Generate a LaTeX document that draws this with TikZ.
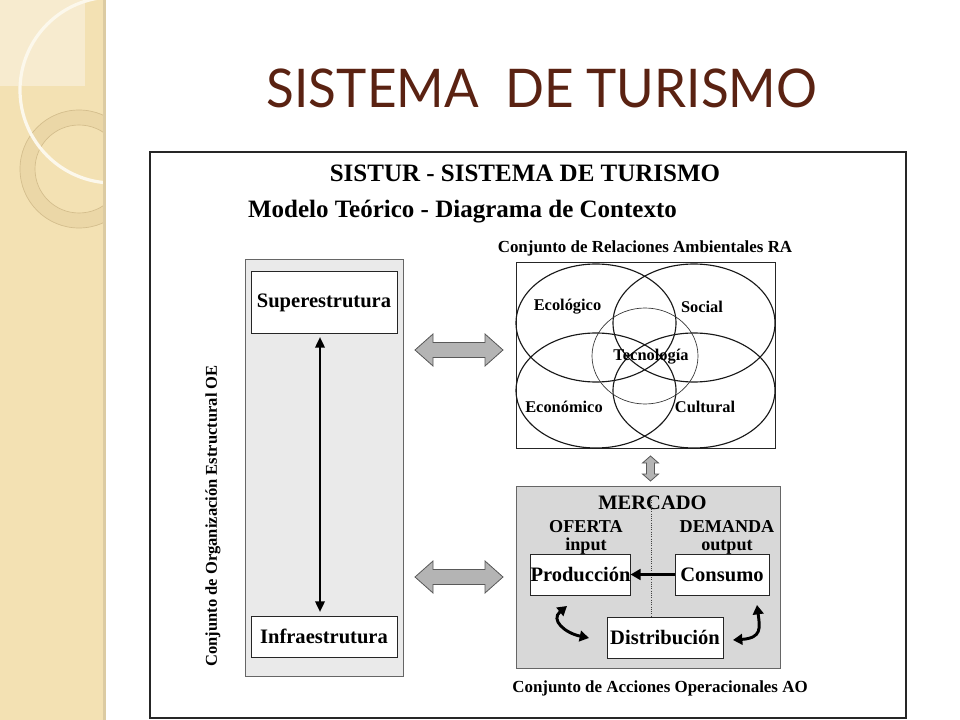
\documentclass[tikz,border=0pt]{standalone}
\usepackage{fontspec}
\setmainfont{Liberation Serif}
\newfontfamily\titlefont{Lato}
\usetikzlibrary{calc,arrows.meta}
\definecolor{stripe}{HTML}{F3E1B3}
\definecolor{stripelight}{HTML}{F7EBCF}
\definecolor{stripeedge}{HTML}{DCCBA2}
\definecolor{ringc}{HTML}{EAD6A6}
\definecolor{ringedge}{HTML}{D3BD8C}
\definecolor{titlecol}{HTML}{5A2212}
\definecolor{lightgray}{HTML}{EAEAEA}
\definecolor{midgray}{HTML}{D8D8D8}
\definecolor{arrowgray}{HTML}{B4B4B4}
\newcommand\setfs[1]{\fontsize{#1pt}{#1pt}\selectfont}
\begin{document}
\begin{tikzpicture}[x=0.75pt,y=-0.75pt,
  every node/.style={inner sep=0pt, outer sep=0pt},
  box/.style={draw=black!85, line width=0.75pt, fill=white, align=center},
  graybox/.style={draw=black!60, line width=0.75pt, fill=lightgray},
  mgraybox/.style={draw=black!60, line width=0.75pt, fill=midgray},
  hdr/.style={font=\bfseries\setfs{18.75}},
  small/.style={font=\bfseries\setfs{12.7}},
  ell/.style={draw=black!90, line width=0.85pt},
  inlbl/.style={font=\bfseries\setfs{12.3}},
  boxlbl/.style={font=\bfseries\setfs{15.4}},
  mlbl/.style={font=\bfseries\fontsize{13.6pt}{12.8pt}\selectfont, align=center, anchor=base},
  blockarrow/.style={draw=black!65, line width=0.6pt, fill=arrowgray},
  thickarrow/.style={line width=2.2pt, -{Triangle[length=7.5pt,width=8pt]}},
  dblarrow/.style={line width=1.8pt, {Triangle[length=8pt,width=7pt]}-{Triangle[length=8pt,width=7pt]}},
  curvearrow/.style={line width=2.2pt, {Triangle[length=7pt,width=8pt]}-{Triangle[length=7pt,width=8pt]}},
  hblock/.pic={\draw[blockarrow] (-44,0) -- (-26,-16) -- (-26,-7.5) -- (26,-7.5) -- (26,-16) -- (44,0) -- (26,16) -- (26,7.5) -- (-26,7.5) -- (-26,16) -- cycle;},
  vblock/.pic={\draw[blockarrow] (0,-12.5) -- (8,-5.5) -- (4,-5.5) -- (4,5.5) -- (8,5.5) -- (0,12.5) -- (-8,5.5) -- (-4,5.5) -- (-4,-5.5) -- (-8,-5.5) -- cycle;},
]
\useasboundingbox (0,0) rectangle (960,720);
\fill[white] (0,0) rectangle (960,720);

% decorative stripe
\fill[stripe] (0,0) rectangle (105,720);
\fill[stripelight] (0,0) rectangle (85,86);
\begin{scope}
  \clip (0,0) rectangle (105,720);
  \fill[ringc, even odd rule, opacity=0.85] (79,169) circle [radius=59] (79,169) circle [radius=44];
  \draw[ringedge, line width=0.5pt] (79,169) circle [radius=59] (79,169) circle [radius=44];
  \draw[white!75!stripe, line width=2.4pt] (113,90) circle [radius=93];
\end{scope}
\fill[stripeedge] (103,0) rectangle (106,720);

% title
\node[font=\titlefont\setfs{40}, text=titlecol, anchor=base, xscale=0.96] (title) at (542,108) {SISTEMA\ \ DE TURISMO};

% outer frame
\draw[black!85, line width=0.9pt] (150,152) rectangle (906,718);

\node[hdr] (sistur) at (525,173) {SISTUR - SISTEMA DE TURISMO};
\node[hdr, anchor=west] (modelo) at (248,212) {Modelo Teórico - Diagrama de Contexto};

% structural organisation
\node[graybox, minimum width={158*0.75pt}, minimum height={416*0.75pt}] (oe) at (324,468) {};
\node[box, boxlbl, minimum width={146*0.75pt}, minimum height={61*0.75pt}] (super) at (324,302.5) {Superestrutura};
\node[box, boxlbl, minimum width={146*0.75pt}, minimum height={41*0.75pt}] (infra) at (324,636.5) {Infraestrutura};
\draw[dblarrow] ($(super.south)+(-4,4)$) -- ($(infra.north)+(-4,-4)$);
\node[rotate=90, font=\bfseries\setfs{12.4}] (oelbl) at (213,516) {Conjunto de Organización Estructural OE};

% block arrows
\pic at (459,350) {hblock};
\pic at (459,577) {hblock};
\pic at (650.5,468.5) {vblock};

% environmental relations
\node[small] (ralbl) at (645,248) {Conjunto de Relaciones Ambientales RA};
\node[box, minimum width={259*0.75pt}, minimum height={185*0.75pt}] (ra) at (645.5,355.5) {};
\draw[ell] (596,323) ellipse [x radius=80, y radius=59];
\draw[ell] (694,323) ellipse [x radius=81, y radius=59];
\draw[ell] (596,390.5) ellipse [x radius=80, y radius=57.5];
\draw[ell] (694,390.5) ellipse [x radius=81, y radius=57.5];
\draw[black!80, line width=0.5pt] (645,356) ellipse [x radius=53, y radius=48];
\node[inlbl] (eco) at (567.5,307) {Ecológico};
\node[inlbl] (soc) at (702,307) {Social};
\node[inlbl] (tec) at (651,357) {Tecnología};
\node[inlbl] (econ) at (564,407) {Económico};
\node[inlbl] (cul) at (705,407) {Cultural};

% market
\node[mgraybox, minimum width={264*0.75pt}, minimum height={182*0.75pt}] (mer) at (648,577) {};
\node[box, boxlbl, minimum width={95*0.75pt}, minimum height={41*0.75pt}] (prod) at (580.5,574.5) {Producción};
\node[box, boxlbl, minimum width={94*0.75pt}, minimum height={41*0.75pt}] (cons) at (722,574.5) {Consumo};
\node[box, boxlbl, minimum width={116*0.75pt}, minimum height={41*0.75pt}] (dist) at (665,637.5) {Distribución};
\node[font=\bfseries\setfs{15.4}] (mercado) at (652.5,503) {MERCADO};
\coordinate (dtop) at (651,500);
\draw[black!75, densely dotted, line width=0.7pt] (dtop) -- (dtop |- dist.north);
\node[mlbl] (oferta) at (586,550) {OFERTA\\input};
\node[mlbl] (demanda) at (727,550) {DEMANDA\\output};
\draw[thickarrow] (cons.west) -- (prod.east);
\coordinate (la) at (567,606);
\coordinate (lb) at (589,638);
\coordinate (rb) at (733,640);
\coordinate (ra2) at (757,605);
\draw[curvearrow] (la) .. controls (550,620) and (565,633) .. (lb);
\draw[curvearrow] (rb) .. controls (762,638) and (760,628) .. (ra2);
\node[small] (aolbl) at (660,688) {Conjunto de Acciones Operacionales AO};
\end{tikzpicture}
\end{document}
